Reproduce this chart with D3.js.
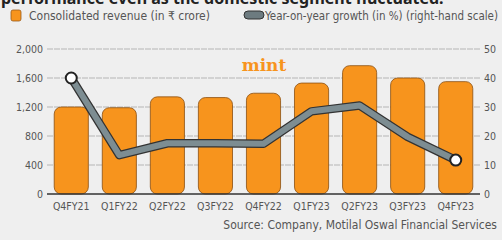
<!DOCTYPE html>
<html>
<head>
<meta charset="utf-8">
<script src="https://cdn.jsdelivr.net/npm/d3@7"></script>
<style>
  html, body { margin: 0; padding: 0; background: #efefef; }
  svg { display: block; font-family: "DejaVu Sans Condensed", "DejaVu Sans", sans-serif; }
</style>
</head>
<body>
<div id="chart"></div>
<script>
// data
var quarters = ["Q4FY21", "Q1FY22", "Q2FY22", "Q3FY22", "Q4FY22", "Q1FY23", "Q2FY23", "Q3FY23", "Q4FY23"];
var revenue = [1200, 1190, 1340, 1330, 1390, 1530, 1770, 1600, 1550];
var growth = [40, 13.4, 17.5, 17.5, 17.3, 28.5, 30.5, 19.7, 11.7];
var leftTicks = [0, 400, 800, 1200, 1600, 2000];
var rightTicks = [0, 10, 20, 30, 40, 50];

var width = 502, height = 240;
var svg = d3.select("#chart").append("svg")
    .attr("width", width)
    .attr("height", height);

svg.append("rect").attr("width", width).attr("height", height).attr("fill", "#efefef");

// cut-off headline at the top
svg.append("text")
    .attr("x", 1).attr("y", 4)
    .style("font-family", "'Noto Sans', sans-serif")
    .attr("font-weight", "bold")
    .attr("font-size", 16)
    .attr("fill", "#222")
    .text("performance even as the domestic segment fluctuated.");

//legend
svg.append("rect")
    .attr("x", 11).attr("y", 10).attr("width", 10).attr("height", 11)
    .attr("rx", 2).attr("fill", "#f7941d").attr("stroke", "#9a5a1a").attr("stroke-width", 0.8);
svg.append("text")
    .attr("x", 29).attr("y", 20)
    .attr("font-size", 12).attr("fill", "#555")
    .text("Consolidated revenue (in ₹ crore)");
svg.append("rect")
    .attr("x", 244).attr("y", 11).attr("width", 20).attr("height", 8)
    .attr("rx", 4).attr("fill", "#6d7b80").attr("stroke", "#333").attr("stroke-width", 1);
svg.append("text")
    .attr("x", 265).attr("y", 20)
    .attr("font-size", 11.5).attr("fill", "#555")
    .text("Year-on-year growth (in %) (right-hand scale)");

var x = d3.scaleBand()
    .domain(quarters)
    .range([47, 480])
    .paddingInner(0.29)
    .paddingOuter(0.15);

var yL = d3.scaleLinear().domain([0, 2000]).range([194, 49]);
var yR = d3.scaleLinear().domain([0, 50]).range([194, 49]);

// grid
svg.append("g")
    .selectAll("line")
    .data(leftTicks.slice(1))
    .enter().append("line")
    .attr("x1", 47).attr("x2", 480)
    .attr("y1", function(d) { return yL(d); })
    .attr("y2", function(d) { return yL(d); })
    .attr("stroke", "#b5b5b5")
    .attr("stroke-width", 1)
    .attr("stroke-dasharray", "6,1");

// left axis labels
svg.append("g")
    .selectAll("text")
    .data(leftTicks)
    .enter().append("text")
    .attr("x", 43)
    .attr("y", function(d) { return yL(d) + 4; })
    .attr("text-anchor", "end")
    .attr("font-size", 10.5).attr("fill", "#555")
    .text(function(d) { return d3.format(",")(d); });

// right axis labels
svg.append("g")
    .selectAll("text")
    .data(rightTicks)
    .enter().append("text")
    .attr("x", 484)
    .attr("y", function(d) { return yR(d) + 4; })
    .attr("font-size", 10.5).attr("fill", "#555")
    .text(function(d) { return d; });

// mint logo
svg.append("text")
    .attr("x", 264).attr("y", 71)
    .attr("text-anchor", "middle")
    .style("font-family", "'DejaVu Serif', serif")
    .attr("font-weight", "bold")
    .attr("font-size", 17)
    .attr("fill", "#f7941d")
    .text("mint");

// bars with rounded corners
svg.append("g")
    .selectAll("rect")
    .data(revenue)
    .enter().append("rect")
    .attr("x", function(d, i) { return x(quarters[i]); })
    .attr("y", function(d) { return yL(d); })
    .attr("width", x.bandwidth())
    .attr("height", function(d) { return yL(0) - yL(d); })
    .attr("rx", 7)
    .attr("fill", "#f7941d")
    .attr("stroke", "#8a4f12")
    .attr("stroke-width", 0.8);

// baseline
svg.append("line")
    .attr("x1", 47).attr("x2", 480)
    .attr("y1", yL(0)).attr("y2", yL(0))
    .attr("stroke", "#333").attr("stroke-width", 1.5);

// x labels
svg.append("g")
    .selectAll("text")
    .data(quarters)
    .enter().append("text")
    .attr("x", function(d) { return x(d) + x.bandwidth() / 2; })
    .attr("y", 210)
    .attr("text-anchor", "middle")
    .attr("font-size", 10.5).attr("fill", "#555")
    .text(function(d) { return d; });

// growth line
var line = d3.line()
    .x(function(d, i) { return x(quarters[i]) + x.bandwidth() / 2; })
    .y(function(d) { return yR(d); });

svg.append("path")
    .datum(growth)
    .attr("d", line)
    .attr("fill", "none")
    .attr("stroke", "#333")
    .attr("stroke-width", 8.5)
    .attr("stroke-linejoin", "round");
svg.append("path")
    .datum(growth)
    .attr("d", line)
    .attr("fill", "none")
    .attr("stroke", "#7d8d92")
    .attr("stroke-width", 6)
    .attr("stroke-linejoin", "round");

// end points
var ends = [0, growth.length - 1];
svg.append("g")
    .selectAll("circle")
    .data(ends)
    .enter().append("circle")
    .attr("cx", function(i) { return x(quarters[i]) + x.bandwidth() / 2; })
    .attr("cy", function(i) { return yR(growth[i]); })
    .attr("r", 5.5)
    .attr("fill", "#fff")
    .attr("stroke", "#222")
    .attr("stroke-width", 2);

// source
svg.append("text")
    .attr("x", 497).attr("y", 229)
    .attr("text-anchor", "end")
    .attr("font-size", 12).attr("fill", "#555")
    .text("Source: Company, Motilal Oswal Financial Services");
</script>
</body>
</html>
